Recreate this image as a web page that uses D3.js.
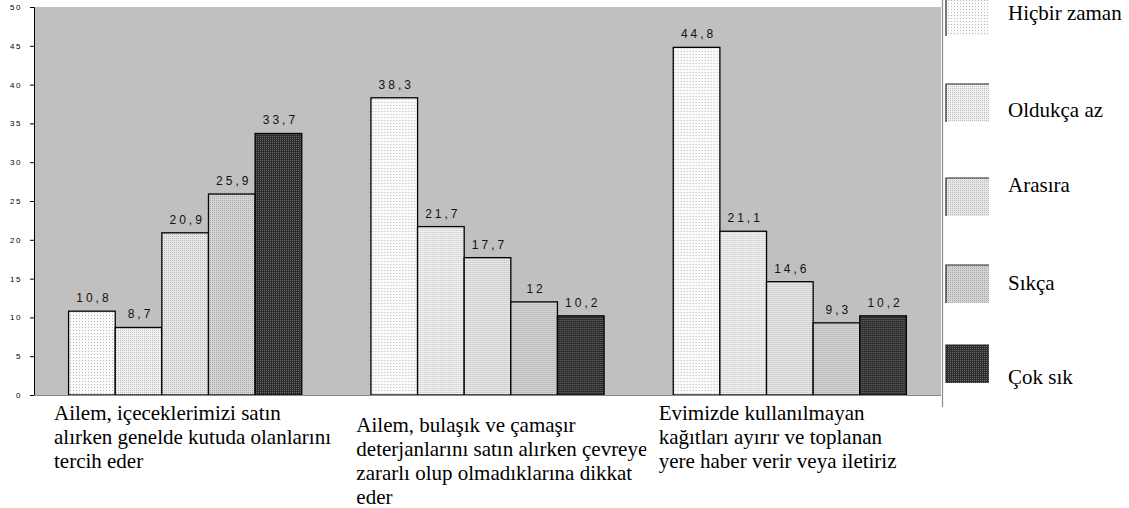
<!DOCTYPE html>
<html>
<head>
<meta charset="utf-8">
<script src="https://cdn.jsdelivr.net/npm/d3@7"></script>
<style>
  html, body { margin: 0; padding: 0; background: #fff; }
  svg { display: block; }
</style>
</head>
<body>
<svg id="chart" width="1129" height="508"></svg>
<script>
// ---------- DATA ----------
const categories = [
  "Ailem, içeceklerimizi satın alırken genelde kutuda olanlarını tercih eder",
  "Ailem, bulaşık ve çamaşır deterjanlarını satın alırken çevreye zararlı olup olmadıklarına dikkat eder",
  "Evimizde kullanılmayan kağıtları ayırır ve toplanan yere haber verir veya iletiriz"
];
const categoryLines = [
  ["Ailem, içeceklerimizi satın", "alırken genelde kutuda olanlarını", "tercih eder"],
  ["Ailem, bulaşık ve çamaşır", "deterjanlarını satın alırken çevreye", "zararlı olup olmadıklarına dikkat", "eder"],
  ["Evimizde kullanılmayan", "kağıtları ayırır ve toplanan", "yere haber verir veya iletiriz"]
];
const seriesNames = ["Hiçbir zaman", "Oldukça az", "Arasıra", "Sıkça", "Çok sık"];
const hicbirZaman = [10.8, 38.3, 44.8];
const oldukcaAz   = [8.7, 21.7, 21.1];
const arasira     = [20.9, 17.7, 14.6];
const sikca       = [25.9, 12, 9.3];
const cokSik      = [33.7, 10.2, 10.2];
const seriesValues = [hicbirZaman, oldukcaAz, arasira, sikca, cokSik];
const yTicks = [0, 5, 10, 15, 20, 25, 30, 35, 40, 45, 50];

// ---------- LAYOUT ----------
const SERIF = "'Liberation Serif', 'Times New Roman', serif";
const SANS = "'Liberation Sans', Arial, sans-serif";
const svg = d3.select("#chart");
const plot = { left: 34, right: 941, top: 7, bottom: 395 };

const y = d3.scaleLinear().domain([0, 50]).range([plot.bottom, plot.top]);
const x0 = d3.scaleBand().domain(d3.range(categories.length))
  .range([plot.left, plot.right]).padding(0);
const groupPad = 34.6;
const x1 = d3.scaleBand().domain(d3.range(seriesNames.length))
  .range([groupPad, x0.bandwidth() - groupPad]).padding(0);

// ---------- PATTERNS ----------
const defs = svg.append("defs");
const patternStyles = [
  { bg: "#fbfbfb", dot: "#b8b8b8", size: 3 },
  { bg: "#f2f2f2", dot: "#bdbdbd", size: 2 },
  { bg: "#e6e6e6", dot: "#bcbcbc", size: 2 },
  { bg: "#d4d4d4", dot: "#a8a8a8", size: 2 },
  { bg: "#2e2e2e", dot: "#6a6a6a", size: 2 }
];
patternStyles.forEach((p, i) => {
  const pat = defs.append("pattern")
    .attr("id", "pat" + i)
    .attr("patternUnits", "userSpaceOnUse")
    .attr("width", p.size).attr("height", p.size);
  pat.append("rect").attr("width", p.size).attr("height", p.size).attr("fill", p.bg);
  pat.append("rect").attr("width", 1).attr("height", 1).attr("fill", p.dot);
});

// ---------- PLOT BACKGROUND ----------
svg.append("rect")
  .attr("x", plot.left).attr("y", plot.top)
  .attr("width", plot.right - plot.left).attr("height", plot.bottom - plot.top)
  .attr("fill", "#c0c0c0");

// ---------- BARS ----------
const groups = svg.selectAll("g.group")
  .data(categories.map((c, ci) => ci))
  .join("g").attr("class", "group")
  .attr("transform", ci => `translate(${x0(ci)},0)`);

groups.selectAll("rect.bar")
  .data(ci => seriesValues.map((vals, si) => ({ si, v: vals[ci] })))
  .join("rect").attr("class", "bar")
  .attr("x", d => x1(d.si))
  .attr("y", d => y(d.v))
  .attr("width", x1.bandwidth())
  .attr("height", d => y(0) - y(d.v))
  .attr("fill", d => `url(#pat${d.si})`)
  .attr("stroke", "#000")
  .attr("stroke-width", 1.3);

groups.selectAll("text.val")
  .data(ci => seriesValues.map((vals, si) => ({ si, v: vals[ci] })))
  .join("text").attr("class", "val")
  .attr("x", d => x1(d.si) + x1.bandwidth() / 2 + 2)
  .attr("y", d => y(d.v) - 9)
  .attr("text-anchor", "middle")
  .style("font-family", SANS)
  .style("font-size", "12px")
  .style("letter-spacing", "3px")
  .attr("fill", "#111")
  .text(d => String(d.v).replace(".", ","));

// ---------- AXES ----------
const yAxis = d3.axisLeft(y).tickValues(yTicks).tickSize(4).tickPadding(8);
const ya = svg.append("g").attr("transform", `translate(${plot.left},0)`).call(yAxis);
ya.select(".domain").attr("stroke", "#000").attr("stroke-width", 1);
ya.selectAll(".tick line").attr("stroke", "#000");
ya.selectAll(".tick text")
  .style("font-family", SANS)
  .style("font-size", "8px")
  .style("letter-spacing", "1.5px")
  .attr("fill", "#000");

svg.append("line")
  .attr("x1", plot.left).attr("x2", plot.right)
  .attr("y1", plot.bottom + 0.5).attr("y2", plot.bottom + 0.5)
  .attr("stroke", "#8a8a8a").attr("stroke-width", 1.2);

// ---------- CATEGORY LABELS ----------
const labelClip = 292;
categoryLines.forEach((lines, ci) => {
  const lx = x0(ci) + 20;
  defs.append("clipPath").attr("id", "clip" + ci)
    .append("rect").attr("x", lx - 2).attr("y", 396)
    .attr("width", labelClip).attr("height", 112);
  const g = svg.append("g").attr("clip-path", `url(#clip${ci})`);
  const firstBase = 420 + (lines.length - 3) * 12;
  g.selectAll("text").data(lines).join("text")
    .attr("x", lx)
    .attr("y", (d, i) => firstBase + i * 24)
    .style("font-family", SERIF)
    .style("font-size", "21px")
    .attr("fill", "#000")
    .text(d => d);
});

// ---------- LEGEND ----------
svg.append("line")
  .attr("x1", 942.5).attr("x2", 942.5).attr("y1", 0).attr("y2", 407)
  .attr("stroke", "#8c8c8c").attr("stroke-width", 1.2);

const legendSwatchY = [-2, 84, 178, 265, 345];
const legendTextY = [13, 110, 185, 283, 377];
const lg = svg.append("g");
seriesNames.forEach((name, i) => {
  const sy = legendSwatchY[i];
  lg.append("rect")
    .attr("x", 946).attr("y", sy).attr("width", 43).attr("height", 38)
    .attr("fill", `url(#pat${i})`);
  lg.append("path")
    .attr("d", `M946,${sy + 38} V${sy} H989`)
    .attr("fill", "none").attr("stroke", "#222").attr("stroke-width", 1.2);
  lg.append("text")
    .attr("x", 1008).attr("y", legendTextY[i])
    .attr("dy", "0.35em")
    .style("font-family", SERIF)
    .style("font-size", "21px")
    .attr("fill", "#000")
    .text(name);
});
</script>
</body>
</html>
